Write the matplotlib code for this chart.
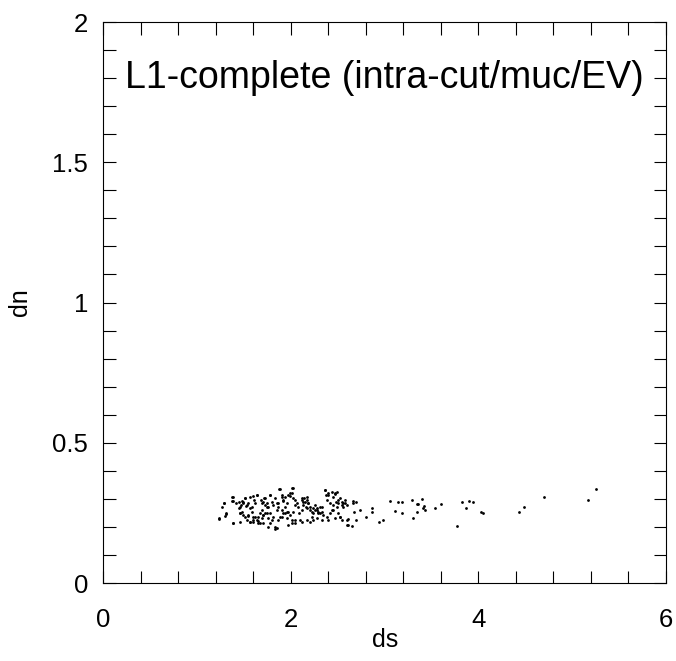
import numpy as np
import matplotlib
matplotlib.use("Agg")
import matplotlib.pyplot as plt
from matplotlib.ticker import MultipleLocator, FixedLocator, FuncFormatter

plt.rcParams['font.family'] = ['Liberation Sans', 'DejaVu Sans']

# points (ds, dn)
ds = [
    1.285, 1.235, 1.306, 1.374, 1.367, 1.377, 1.413, 1.449, 1.456, 1.473,
    1.491, 1.509, 1.527, 1.562, 1.598, 1.641, 1.616, 1.580, 1.456, 1.509,
    1.545, 1.562, 1.598, 1.616, 1.651, 1.669, 1.687, 1.705, 1.722, 1.705,
    1.722, 1.740, 1.758, 1.776, 1.794, 1.776, 1.794, 1.829, 1.811, 1.847,
    1.865, 1.882, 1.900, 1.918, 1.936, 1.918, 1.900, 1.961, 1.989, 2.007,
    2.025, 2.042, 2.060, 2.078, 2.089, 2.007, 2.042, 2.096, 2.114, 2.131,
    2.167, 2.160, 2.185, 2.202, 2.220, 2.238, 2.256, 2.274, 2.291, 2.309,
    2.327, 2.362, 2.380, 2.398, 2.416, 2.434, 2.451, 2.469, 2.487, 2.505,
    2.522, 2.540, 2.558, 2.576, 2.594, 2.611,
    2.541, 2.551, 2.576, 2.594, 2.612, 2.601, 2.658, 2.665, 2.694, 2.672,
    2.694, 2.647, 2.736, 2.800, 2.861, 2.861, 2.943, 2.978, 3.056, 3.110,
    3.145, 3.181, 3.181, 3.288, 3.305, 3.341, 3.341, 3.359, 3.394, 3.419,
    3.405, 3.430, 3.536, 3.597, 3.775, 3.821, 3.867, 3.899, 3.938, 4.024,
    4.045, 4.432, 4.489, 4.699, 5.165, 5.250,
    1.385, 1.378, 1.285, 1.260, 1.307, 1.296, 1.236, 1.378, 1.456, 1.509,
    1.492, 1.463, 1.449, 1.474, 1.520, 1.545, 1.563, 1.580, 1.545, 1.591,
    1.605, 1.492, 1.527, 1.563, 1.598, 1.456,
    1.634, 1.680, 1.694, 1.716, 1.723, 1.740, 1.687, 1.669, 1.652, 1.705,
    1.740, 1.758, 1.634, 1.652, 1.705, 1.776, 1.776, 1.829, 1.812, 1.847,
    1.865, 1.872, 1.900, 1.918, 1.936, 1.954, 1.972, 1.989, 2.007, 2.025,
    2.043, 1.900, 1.936, 1.972, 1.883, 1.865, 1.954, 1.989, 2.025, 1.829,
    2.007, 2.043, 1.972, 1.758, 1.847,
    2.114, 2.139, 2.149, 2.167, 2.185, 2.132, 2.114, 2.167, 2.203, 2.220,
    2.238, 2.256, 2.274, 2.292, 2.309, 2.327, 2.345, 2.363, 2.373, 2.398,
    2.434, 2.452, 2.469, 2.480, 2.505, 2.523, 2.540, 2.487, 2.452, 2.416,
    2.380, 2.398, 2.327, 2.274, 2.238, 2.203, 2.114, 2.167, 2.505, 2.523,
    2.469,
]
dn = [
    0.286, 0.227, 0.246, 0.305, 0.294, 0.215, 0.284, 0.290, 0.272, 0.294,
    0.284, 0.302, 0.278, 0.308, 0.310, 0.314, 0.284, 0.272, 0.249, 0.237,
    0.239, 0.219, 0.225, 0.237, 0.222, 0.213, 0.231, 0.243, 0.251, 0.290,
    0.302, 0.284, 0.272, 0.314, 0.290, 0.249, 0.225, 0.191, 0.237, 0.260,
    0.284, 0.334, 0.308, 0.294, 0.272, 0.249, 0.237, 0.254, 0.310, 0.320,
    0.338, 0.296, 0.284, 0.272, 0.249, 0.225, 0.213, 0.225, 0.302, 0.290,
    0.296, 0.272, 0.284, 0.260, 0.237, 0.249, 0.260, 0.266, 0.254, 0.249,
    0.272, 0.332, 0.296, 0.314, 0.284, 0.260, 0.278, 0.317, 0.326, 0.284,
    0.237, 0.290, 0.272, 0.284, 0.225, 0.207,
    0.225, 0.284, 0.296, 0.278, 0.227, 0.207, 0.294, 0.284, 0.287, 0.254,
    0.225, 0.203, 0.260, 0.234, 0.266, 0.254, 0.218, 0.225, 0.292, 0.258,
    0.287, 0.290, 0.251, 0.296, 0.231, 0.254, 0.281, 0.282, 0.298, 0.275,
    0.266, 0.260, 0.266, 0.282, 0.203, 0.287, 0.266, 0.291, 0.288, 0.252,
    0.249, 0.254, 0.270, 0.308, 0.297, 0.334,
    0.308, 0.294, 0.284, 0.272, 0.248, 0.239, 0.231, 0.215, 0.219, 0.302,
    0.290, 0.278, 0.266, 0.254, 0.275, 0.284, 0.266, 0.254, 0.242, 0.236,
    0.296, 0.242, 0.225, 0.219, 0.219, 0.248,
    0.314, 0.296, 0.284, 0.302, 0.278, 0.272, 0.260, 0.248, 0.237, 0.242,
    0.248, 0.231, 0.225, 0.213, 0.213, 0.213, 0.314, 0.302, 0.278, 0.284,
    0.272, 0.334, 0.314, 0.296, 0.308, 0.284, 0.314, 0.320, 0.338, 0.302,
    0.278, 0.260, 0.248, 0.254, 0.237, 0.225, 0.231, 0.242, 0.254, 0.201,
    0.213, 0.225, 0.207, 0.201, 0.195,
    0.296, 0.302, 0.290, 0.308, 0.284, 0.278, 0.260, 0.266, 0.272, 0.254,
    0.266, 0.278, 0.260, 0.248, 0.272, 0.254, 0.242, 0.332, 0.314, 0.320,
    0.326, 0.308, 0.320, 0.290, 0.296, 0.302, 0.278, 0.272, 0.260, 0.248,
    0.237, 0.225, 0.225, 0.231, 0.225, 0.219, 0.219, 0.225, 0.248, 0.237,
    0.231,
]

title_text = "L1-complete (intra-cut/muc/EV)"

fig = plt.figure(figsize=(6.76, 6.61), dpi=100)
ax = fig.add_axes([0.1531, 0.118, 0.8321, 0.8487])

ax.scatter(ds, dn, s=4, marker='o', color='black', linewidths=0)

ax.set_xlim(0, 6)
ax.set_ylim(0, 2)

ax.xaxis.set_major_locator(FixedLocator([0, 2, 4, 6]))
ax.xaxis.set_minor_locator(MultipleLocator(0.4))
ax.yaxis.set_major_locator(MultipleLocator(0.5))
ax.yaxis.set_minor_locator(MultipleLocator(0.1))
ax.yaxis.set_major_formatter(FuncFormatter(lambda v, p: "%g" % v))
ax.xaxis.set_major_formatter(FuncFormatter(lambda v, p: "%g" % v))

ax.tick_params(which='both', direction='in', top=True, right=True,
               length=9, width=0.8, labelsize=18.5)
ax.tick_params(axis='x', which='major', pad=18)
ax.tick_params(axis='y', which='major', pad=11)
for sp in ax.spines.values():
    sp.set_linewidth(0.8)

ax.set_xlabel("ds", fontsize=18, labelpad=-3)
ax.set_ylabel("dn", fontsize=18, labelpad=15)

ax.text(3.0, 1.80, title_text, fontsize=27, ha='center', va='center')

fig.savefig("out.png", dpi=100)
